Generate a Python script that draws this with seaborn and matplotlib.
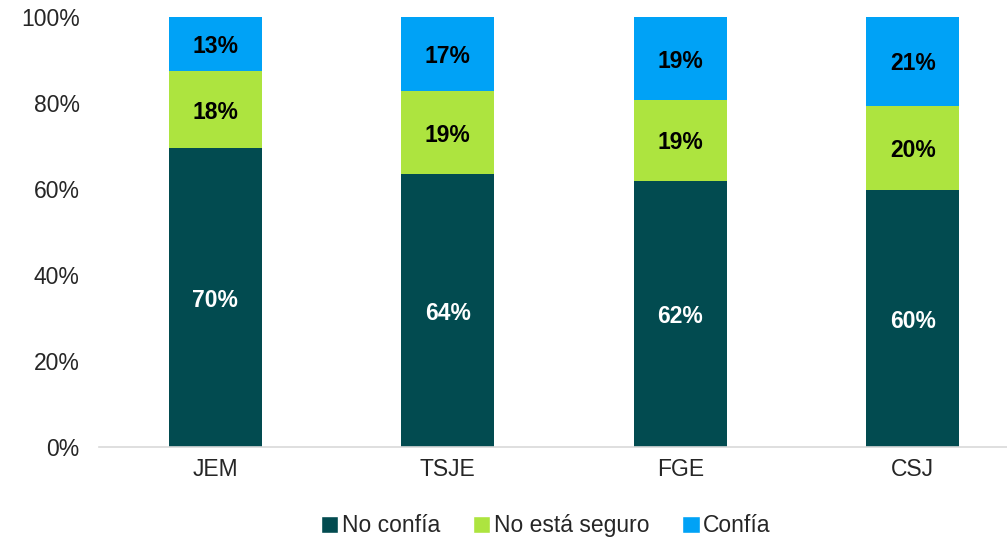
import matplotlib
matplotlib.use('Agg')
import matplotlib.pyplot as plt
from matplotlib.patches import Patch
import seaborn as sns
import pandas as pd
import numpy as np

# Data (percent of respondents)
institutions = ['JEM', 'TSJE', 'FGE', 'CSJ']
no_confia = [69.5, 63.5, 61.9, 59.8]
no_seguro = [17.9, 19.3, 18.8, 19.6]
confia = [12.6, 17.2, 19.3, 20.6]

series_names = ['No confía', 'No está seguro', 'Confía']
colors = ['#024B50', '#ADE43F', '#00A2F6']
label_colors = ['white', 'black', 'black']
yticks = [0, 20, 40, 60, 80, 100]

sns.set_theme(style='white')
plt.rcParams['font.family'] = ['Liberation Sans', 'DejaVu Sans']

df = pd.DataFrame({'inst': institutions,
                   'No confía': no_confia,
                   'No está seguro': no_seguro,
                   'Confía': confia})
stack = df[series_names].cumsum(axis=1)

fig = plt.figure(figsize=(10.07, 5.41), dpi=100)
ax = fig.add_axes([99 / 1007, 1 - 447 / 541, 930 / 1007, 430 / 541])

# Draw cumulative totals from the top down so each layer covers the one below
for name, color in reversed(list(zip(series_names, colors))):
    sns.barplot(x=df['inst'], y=stack[name], color=color, width=0.4,
                saturation=1, linewidth=0, ax=ax, zorder=2)

# Segment labels
for i in range(len(institutions)):
    bottom = 0
    for name, lc in zip(series_names, label_colors):
        v = df[name].iloc[i]
        ax.text(i, bottom + v / 2 - 0.6, f'{v:.0f}%', ha='center', va='center',
                fontsize=16.5, fontweight='bold', color=lc, zorder=3)
        bottom += v

ax.set_xlim(-0.5, 3.5)
ax.set_ylim(0, 100)
ax.set_yticks(yticks)
ax.set_yticklabels([f'{t}%' for t in yticks], fontsize=16.5)
ax.tick_params(axis='x', labelsize=16.5, length=0, pad=8)
ax.tick_params(axis='y', length=0, pad=14)
ax.set_xlabel('')
ax.set_ylabel('')
for side in ['top', 'right', 'left']:
    ax.spines[side].set_visible(False)
ax.spines['bottom'].set_color('#D9D9D9')
ax.spines['bottom'].set_linewidth(1.2)

handles = [Patch(facecolor=c, label=n) for n, c in zip(series_names, colors)]
fig.legend(handles=handles, loc='center', bbox_to_anchor=(0.542, 0.028),
           ncol=3, frameon=False, fontsize=16.5, handlelength=0.75, handleheight=0.75,
           handletextpad=0.15, columnspacing=1.45)

fig.savefig('out.png', dpi=100)
